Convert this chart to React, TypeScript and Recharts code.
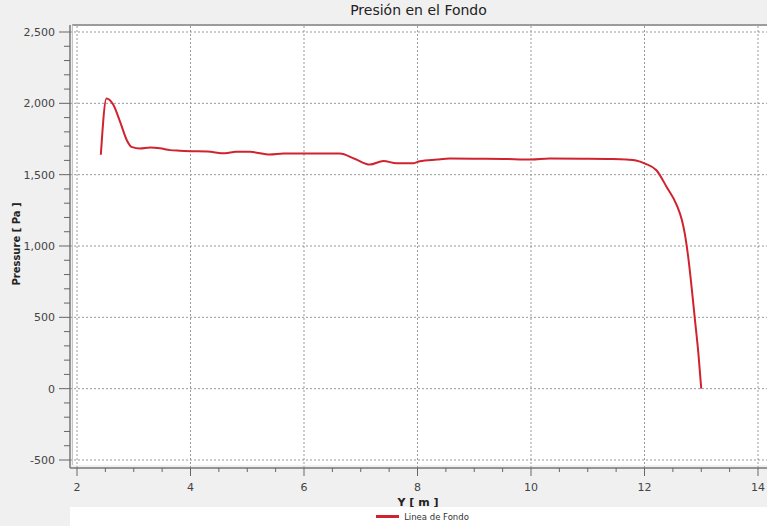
import React from "react"
import {
  LineChart,
  Line,
  XAxis,
  YAxis,
  ReferenceLine,
  Legend
} from "recharts"

// distance along the bottom (Y [m]) and pressure at the bottom (Pa)
const distance = [
  2.42, 2.52, 2.64, 2.76, 2.88, 2.96, 3.11, 3.29, 3.46, 3.64, 3.81, 4.0, 4.3,
  4.61, 4.8, 5.05, 5.4, 5.64, 6.1, 6.63, 6.9, 7.16, 7.4, 7.63, 7.93, 8.04,
  8.34, 8.57, 9.0, 9.51, 10.0, 10.33, 10.92, 11.4, 11.69, 11.85, 12.01, 12.21,
  12.39, 12.57, 12.66, 12.71, 12.77, 12.83, 12.89, 12.95, 13.0
]
const pressure = [
  1640, 2034, 1990, 1870, 1740, 1695, 1683, 1690, 1685, 1672, 1668, 1665, 1662,
  1650, 1660, 1660, 1641, 1648, 1648, 1648, 1610, 1571, 1596, 1580, 1580, 1594,
  1606, 1613, 1612, 1610, 1606, 1613, 1612, 1610, 1606, 1600, 1578, 1531,
  1414, 1285, 1180, 1087, 923, 712, 479, 245, 0
]

const xTicks = [
  2, 2.5, 3, 3.5, 4, 4.5, 5, 5.5, 6, 6.5, 7, 7.5, 8, 8.5, 9, 9.5, 10, 10.5,
  11, 11.5, 12, 12.5, 13, 13.5, 14
]
const xGrid = [2, 4, 6, 8, 10, 12, 14]
const yTicks = [
  -500, -400, -300, -200, -100, 0, 100, 200, 300, 400, 500, 600, 700, 800,
  900, 1000, 1100, 1200, 1300, 1400, 1500, 1600, 1700, 1800, 1900, 2000, 2100,
  2200, 2300, 2400, 2500
]
const yGrid = [-500, 0, 500, 1000, 1500, 2000, 2500]

const data = distance.map((d, i) => ({ y: d, p: pressure[i] }))

const FONT = "'DejaVu Sans', sans-serif"
const RED = "#d0232f"

function XTick(props: any) {
  const { x, y, payload } = props
  const major = payload.value % 2 === 0
  return (
    <g>
      <line x1={x} y1={y} x2={x} y2={y + (major ? 8 : 4)} stroke="#666" />
      {major && (
        <text x={x} y={y + 23} textAnchor="middle" fontSize={11} fill="#444" fontFamily={FONT}>
          {payload.value}
        </text>
      )}
    </g>
  )
}

function YTick(props: any) {
  const { x, y, payload } = props
  const major = payload.value % 500 === 0
  return (
    <g>
      <line x1={x - (major ? 11 : 6)} y1={y} x2={x} y2={y} stroke="#666" />
      {major && (
        <text x={x - 15} y={y + 4} textAnchor="end" fontSize={11} fill="#444" fontFamily={FONT}>
          {payload.value.toLocaleString("en-US")}
        </text>
      )}
    </g>
  )
}

function LegendContent() {
  return (
    <div
      style={{
        height: 19,
        display: "flex",
        alignItems: "center",
        justifyContent: "center",
        paddingLeft: 8,
        fontFamily: FONT,
        fontSize: 8.5,
        color: "#333"
      }}
    >
      <span style={{ width: 23, height: 3, background: RED, marginRight: 5 }} />
      <span>Linea de Fondo</span>
    </div>
  )
}

export default function App() {
  return (
    <div
      style={{
        position: "absolute",
        left: 0,
        top: 0,
        width: 767,
        height: 526,
        background: "#f0f0f0",
        overflow: "hidden"
      }}
    >
      <div
        style={{
          position: "absolute",
          left: 72,
          top: 24,
          width: 695,
          height: 441,
          background: "#fff",
          borderTop: "2px solid #9c9c9c",
          borderLeft: "1px solid #c4c4c4",
          boxSizing: "border-box"
        }}
      />
      <div
        style={{
          position: "absolute",
          left: 70,
          width: 697,
          top: 2,
          textAlign: "center",
          fontFamily: FONT,
          fontSize: 14,
          color: "#222"
        }}
      >
        Presión en el Fondo
      </div>
      <div style={{ position: "absolute", left: 0, top: 0 }}>
        <LineChart
          width={767}
          height={526}
          data={data}
          margin={{ top: 25, right: 0, bottom: 0, left: 0 }}
        >
          <XAxis
            dataKey="y"
            type="number"
            domain={[2, 14]}
            ticks={xTicks}
            interval={0}
            padding={{ left: 7, right: 9 }}
            height={39}
            tickSize={0}
            tickMargin={0}
            tickLine={false}
            tick={<XTick />}
            axisLine={{ stroke: "#777", strokeWidth: 1.5 }}
            label={{
              content: () => (
                <text x={418} y={506} textAnchor="middle" fontSize={11} fontWeight="bold" fill="#222" fontFamily={FONT}>
                  Y [ m ]
                </text>
              )
            }}
          />
          <YAxis
            type="number"
            domain={[-500, 2500]}
            ticks={yTicks}
            interval={0}
            padding={{ top: 7, bottom: 8 }}
            width={70}
            tickSize={0}
            tickMargin={0}
            tickLine={false}
            tick={<YTick />}
            axisLine={{ stroke: "#777", strokeWidth: 1.5 }}
            label={{
              content: () => (
                <text
                  x={20}
                  y={244}
                  transform="rotate(-90, 20, 244)"
                  textAnchor="middle"
                  fontSize={10}
                  fontWeight="bold"
                  fill="#222"
                  fontFamily={FONT}
                >
                  Pressure [ Pa ]
                </text>
              )
            }}
          />
          {xGrid.map((v) => (
            <ReferenceLine key={"x" + v} x={v} stroke="#999" strokeDasharray="2 2" />
          ))}
          {yGrid.map((v) => (
            <ReferenceLine key={"y" + v} y={v} stroke="#999" strokeDasharray="2 2" />
          ))}
          <Legend
            verticalAlign="bottom"
            height={19}
            content={<LegendContent />}
            wrapperStyle={{ left: 70, width: 697, height: 19, bottom: 0, background: "#fff" }}
          />
          <Line
            type="monotone"
            dataKey="p"
            name="Linea de Fondo"
            stroke={RED}
            strokeWidth={2}
            dot={false}
            isAnimationActive={false}
          />
        </LineChart>
      </div>
    </div>
  )
}
